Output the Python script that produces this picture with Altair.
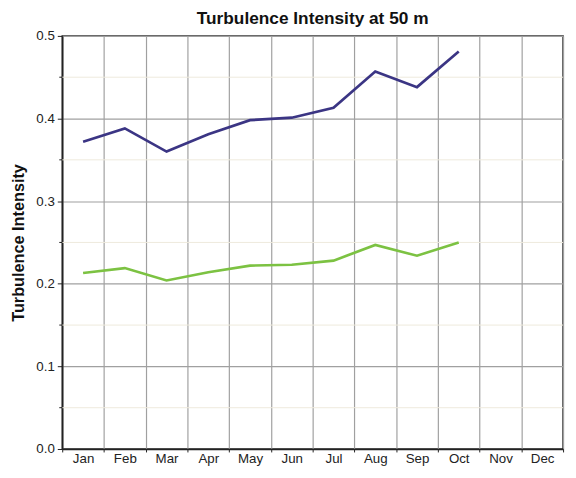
import altair as alt
import pandas as pd

months = ["Jan", "Feb", "Mar", "Apr", "May", "Jun", "Jul", "Aug", "Sep", "Oct", "Nov", "Dec"]
representative_ti = [0.372, 0.388, 0.360, 0.381, 0.398, 0.401, 0.413, 0.457, 0.438, 0.481]
mean_ti = [0.213, 0.219, 0.204, 0.214, 0.222, 0.223, 0.228, 0.247, 0.234, 0.250]
series_names = ["Representative TI", "Mean TI"]
series_colors = ["#3b3584", "#7cc242"]
major_ticks = [0.0, 0.1, 0.2, 0.3, 0.4, 0.5]
minor_ticks = [0.05, 0.15, 0.25, 0.35, 0.45]

FONT = "Liberation Sans"
W, H = 508, 419

rows = []
for m, v in zip(months, representative_ti):
    rows.append({"month": m, "value": v, "series": series_names[0]})
for m, v in zip(months, mean_ti):
    rows.append({"month": m, "value": v, "series": series_names[1]})
df = pd.DataFrame(rows)
minor_df = pd.DataFrame({"value": minor_ticks})

yscale = alt.Scale(domain=[0, 0.5], nice=False, zero=True)
yaxis = alt.Axis(
    title="Turbulence Intensity",
    titleFont=FONT,
    titleFontSize=16.5,
    titleFontWeight="bold",
    titleColor="#111111",
    titlePadding=9,
    values=major_ticks,
    format=".1f",
    grid=True,
    gridColor="#a0a0a0",
    gridWidth=1.2,
    tickColor="#222222",
    tickSize=5,
    domainColor="#222222",
    domainWidth=1.5,
    labelFont=FONT,
    labelFontSize=13.5,
    labelColor="#222222",
    labelPadding=3,
)

minor_grid = alt.Chart(minor_df).mark_rule(color="#eeeadc", strokeWidth=1).encode(
    y=alt.Y("value:Q", scale=yscale, axis=yaxis),
    x=alt.value(0),
    x2=alt.value(W),
)
minor_tick = alt.Chart(minor_df).mark_rule(color="#222222", strokeWidth=1).encode(
    y=alt.Y("value:Q", scale=yscale, axis=yaxis),
    x=alt.value(-3),
    x2=alt.value(0),
)

lines = alt.Chart(df).mark_line(strokeWidth=2.7).encode(
    x=alt.X(
        "month:N",
        sort=months,
        bandPosition=0.5,
        scale=alt.Scale(domain=months, paddingInner=0, paddingOuter=0),
        axis=alt.Axis(
            title=None,
            grid=True,
            tickBand="extent",
            gridColor="#a0a0a0",
            gridWidth=1.2,
            tickColor="#222222",
            tickSize=3,
            domainColor="#222222",
            domainWidth=1.5,
            labelFont=FONT,
            labelFontSize=13.5,
            labelColor="#222222",
            labelAngle=0,
            labelPadding=0,
        ),
    ),
    y=alt.Y("value:Q", scale=yscale, axis=yaxis),
    color=alt.Color(
        "series:N",
        scale=alt.Scale(domain=series_names, range=series_colors),
        legend=None,
    ),
    detail="series:N",
)

chart = alt.layer(minor_grid, minor_tick, lines).properties(
    width=W,
    height=H,
    title=alt.Title(
        "Turbulence Intensity at 50 m",
        font=FONT,
        fontSize=17.5,
        fontWeight="bold",
        color="#111111",
        anchor="middle",
        offset=2,
    ),
    autosize=alt.AutoSizeParams(type="none"),
    padding={"left": 55, "top": 25, "right": 5, "bottom": 18},
).configure_view(stroke="#222222", strokeWidth=1.5)

chart.save("out.html", embed_options={"renderer": "svg", "actions": False})
